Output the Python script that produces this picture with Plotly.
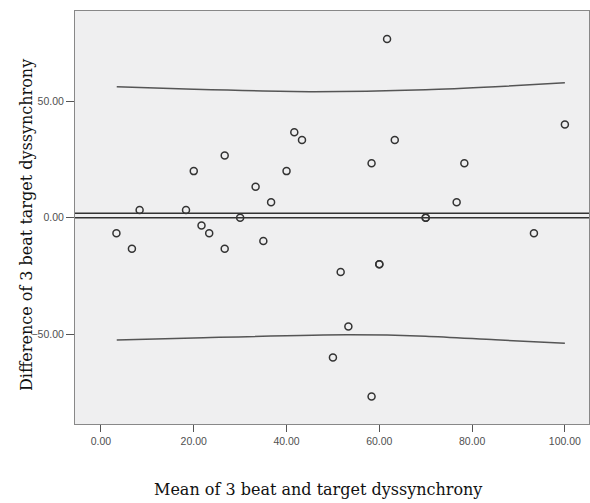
import plotly.graph_objects as go

# Bland-Altman style data
mean_vals = [3.33, 6.67, 8.33, 18.33, 20.0, 21.67, 23.33, 26.67, 26.67, 30.0,
             33.33, 35.0, 36.67, 40.0, 41.67, 43.33, 50.0, 51.67, 53.33, 58.33,
             58.33, 60.0, 60.0, 61.67, 63.33, 70.0, 70.0, 76.67, 78.33, 93.33, 100.0]
diff_vals = [-6.67, -13.33, 3.33, 3.33, 20.0, -3.33, -6.67, 26.67, -13.33, 0.0,
             13.33, -10.0, 6.67, 20.0, 36.67, 33.33, -60.0, -23.33, -46.67, 23.33,
             -76.67, -20.0, -20.0, 76.67, 33.33, 0.0, 0.0, 6.67, 23.33, -6.67, 40.0]

upper_x = [3.4, 20.0, 45.0, 70.0, 85.0, 100.0]
upper_y = [56.2, 55.1, 54.1, 54.9, 56.2, 57.9]
lower_x = [3.4, 20.0, 53.0, 70.0, 85.0, 100.0]
lower_y = [-52.5, -51.6, -50.2, -50.8, -52.4, -53.9]

mean_diff = 1.9
zero_ref = 0.0

x_ticks = [0, 20, 40, 60, 80, 100]
y_ticks = [-50, 0, 50]

fig = go.Figure()

fig.add_trace(go.Scatter(x=upper_x, y=upper_y, mode="lines",
                         line=dict(color="#555555", width=1.5, shape="spline", smoothing=0.8),
                         hoverinfo="skip", showlegend=False))
fig.add_trace(go.Scatter(x=lower_x, y=lower_y, mode="lines",
                         line=dict(color="#555555", width=1.5, shape="spline", smoothing=0.8),
                         hoverinfo="skip", showlegend=False))

fig.add_hline(y=mean_diff, line=dict(color="#333333", width=1.5))
fig.add_hline(y=zero_ref, line=dict(color="#333333", width=1.5))

fig.add_trace(go.Scatter(x=mean_vals, y=diff_vals, mode="markers",
                         marker=dict(symbol="circle-open", size=7,
                                     color="#333333", line=dict(width=1.5)),
                         showlegend=False))

tick_font = dict(family="Liberation Sans, Arial, sans-serif", size=10.5, color="#505050")
title_font = dict(family="DejaVu Serif, serif", size=16, color="#111111")

fig.update_layout(
    width=590, height=503,
    margin=dict(l=75, r=1, t=11, b=79),
    paper_bgcolor="white",
    plot_bgcolor="#efeff0",
    showlegend=False,
    xaxis=dict(range=[-5.6, 105.2], tickvals=x_ticks, tickformat=".2f",
               ticks="outside", ticklen=7, tickcolor="#555555", tickwidth=1,
               showgrid=False, zeroline=False, showline=True, linecolor="#888888",
               linewidth=1, mirror=True, tickfont=tick_font),
    yaxis=dict(range=[-88.5, 88.7], tickvals=y_ticks, tickformat=".2f",
               ticks="outside", ticklen=8, tickcolor="#555555", tickwidth=1,
               showgrid=False, zeroline=False, showline=True, linecolor="#888888",
               linewidth=1, mirror=True, tickfont=tick_font),
    annotations=[
        dict(text="Mean of 3 beat and target dyssynchrony", xref="paper", yref="paper",
             x=(317.5 - 75) / 514, y=-(490 - 424) / 413, xanchor="center", yanchor="middle",
             showarrow=False, font=title_font),
        dict(text="Difference of 3 beat target dyssynchrony", xref="paper", yref="paper",
             x=-(75 - 26) / 514, y=(424 - 225) / 413, xanchor="center", yanchor="middle",
             textangle=-90, showarrow=False, font=title_font),
    ],
)

fig.write_html("out.html", config={"displayModeBar": False},
               post_script="document.body.style.margin='0px';")
